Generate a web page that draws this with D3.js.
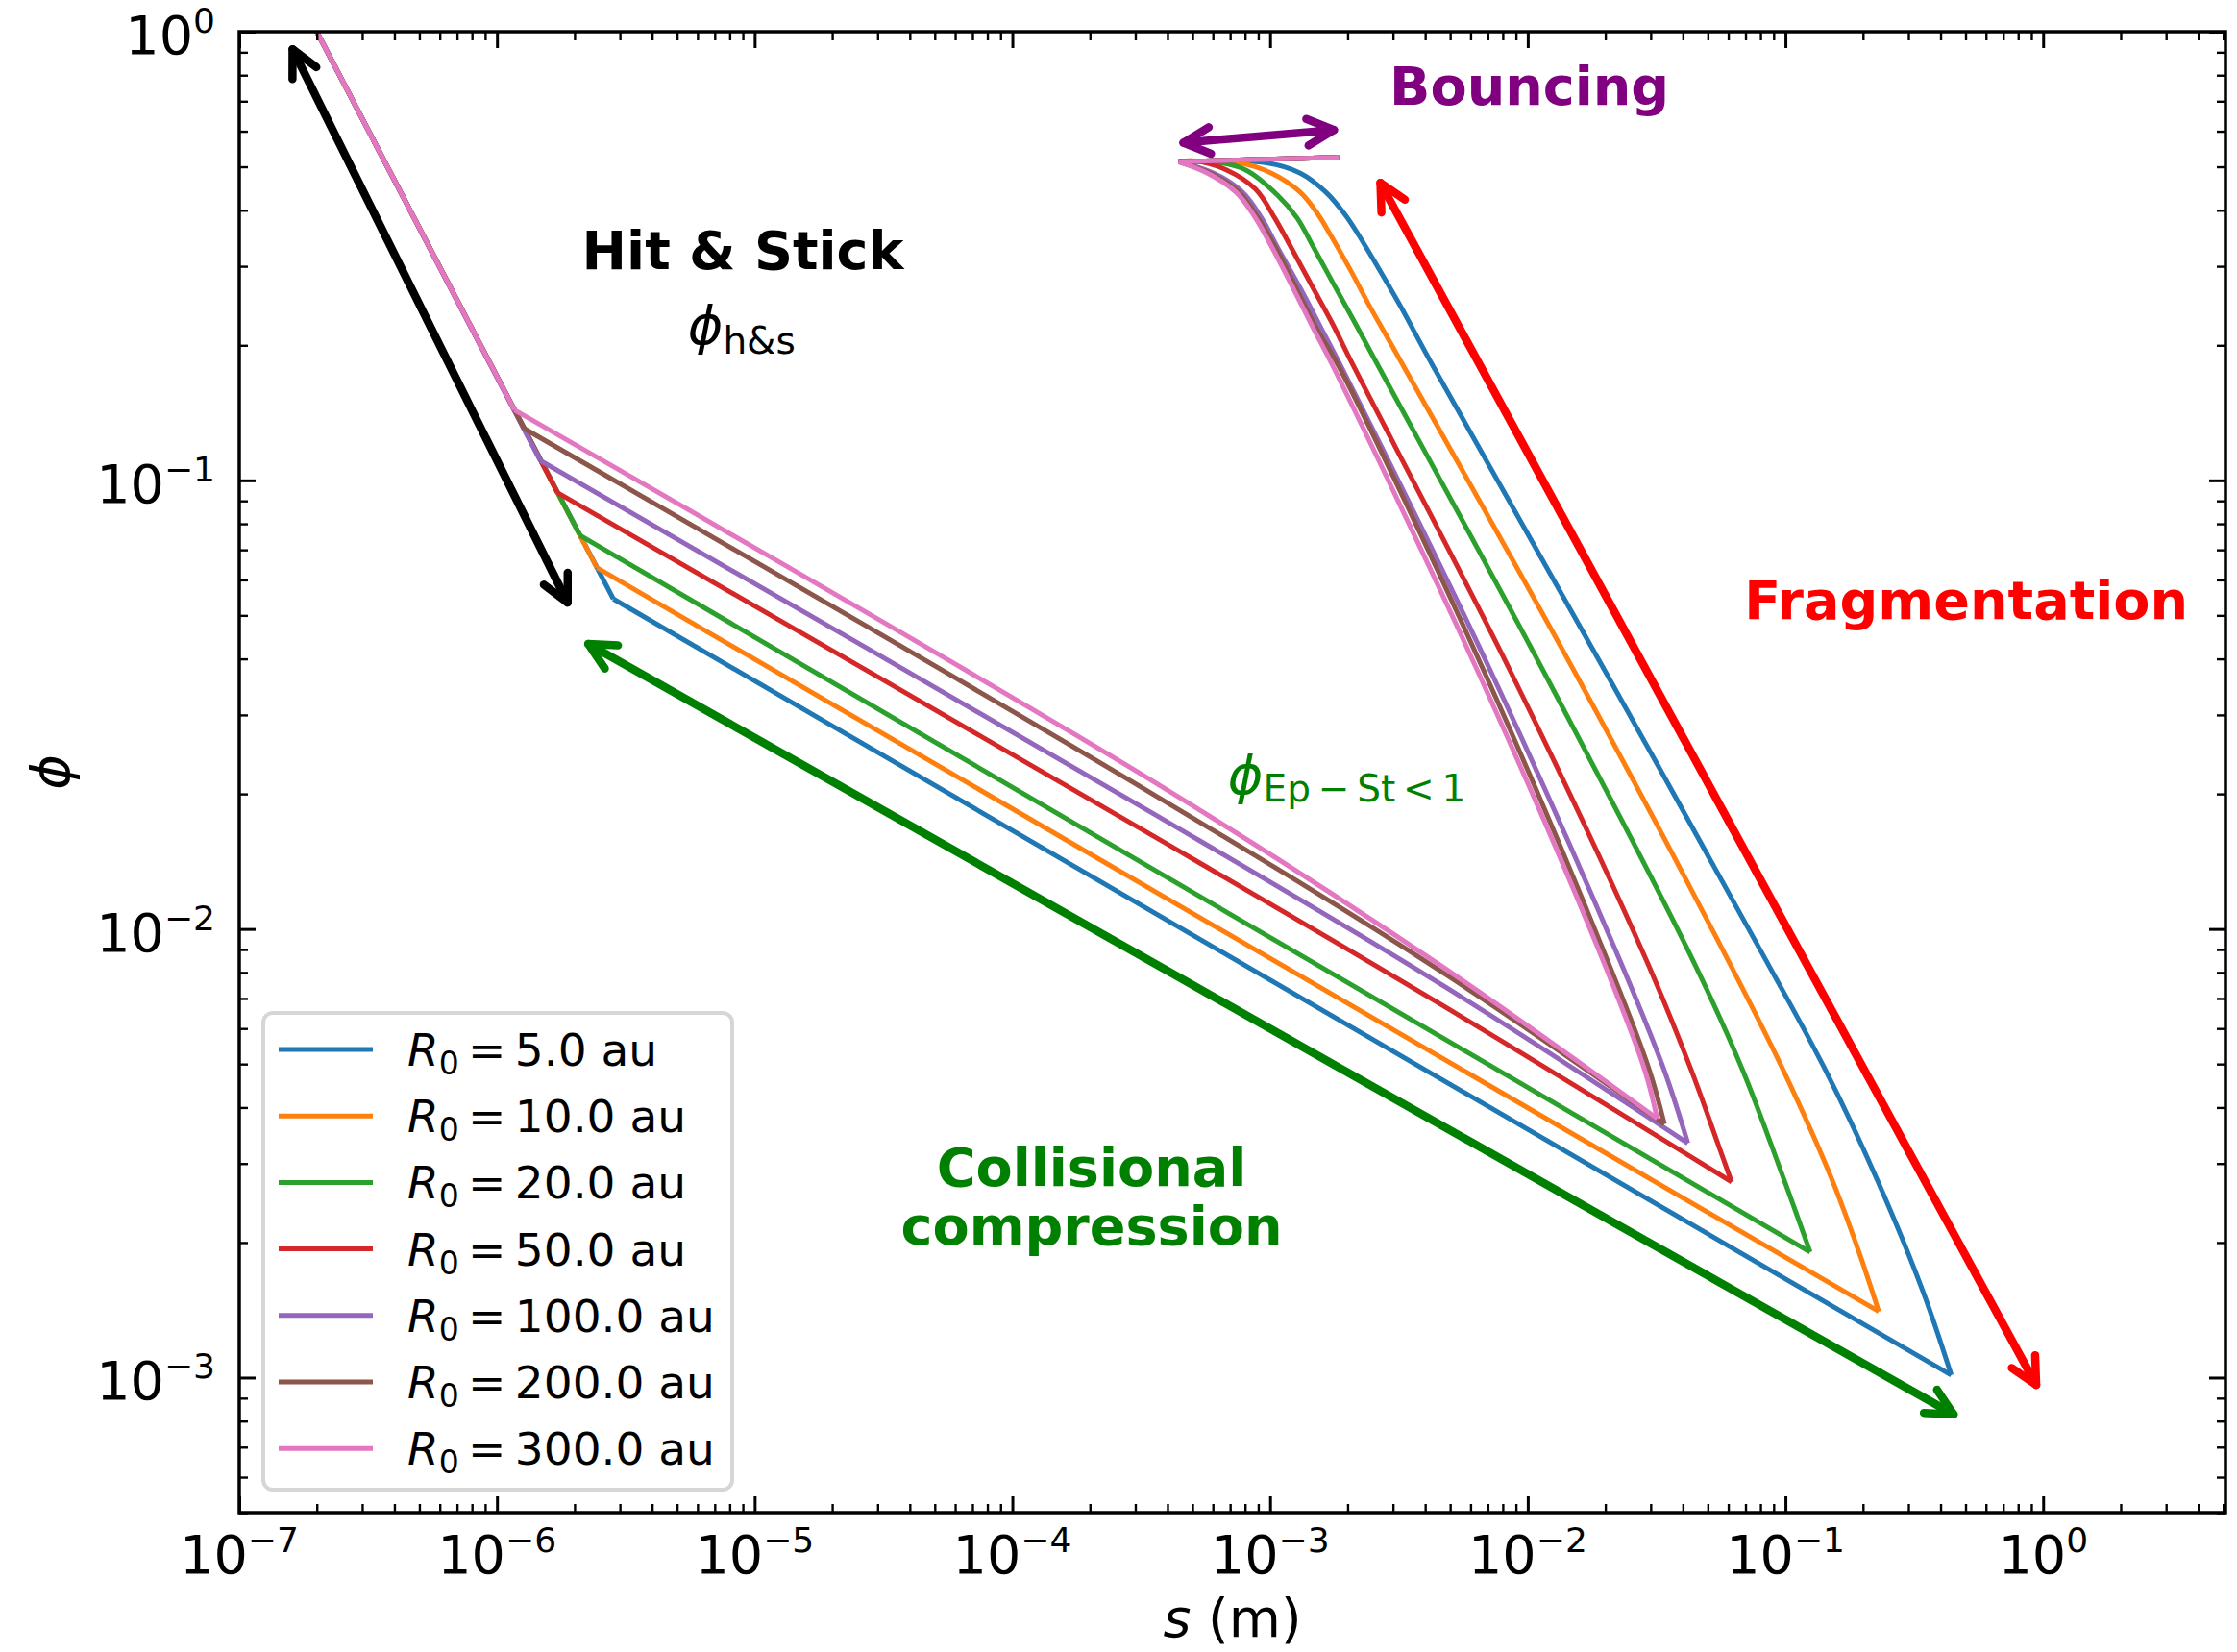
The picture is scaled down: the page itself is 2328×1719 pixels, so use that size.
<!DOCTYPE html>
<html>
<head>
<meta charset="utf-8">
<script src="https://cdn.jsdelivr.net/npm/d3@7"></script>
<style>
  body { margin: 0; background: #fff; }
  svg { display: block; font-family: "DejaVu Sans", sans-serif; }
</style>
</head>
<body>
<svg id="chart" width="2328" height="1719"></svg>
<script>
'use strict';

// initial disc radius of each run (au)
const radii = [5.0, 10.0, 20.0, 50.0, 100.0, 200.0, 300.0];
const colors = ['#1f77b4', '#ff7f0e', '#2ca02c', '#d62728', '#9467bd', '#8c564b', '#e377c2'];

// evolution tracks: [s (m), phi]
// hit & stick -> compression -> minimum phi -> fragmentation -> bouncing
const trackR5 = [[2.0e-7, 1.0], [2.83e-6, 0.0544], [0.440, 1.013e-3], [0.3415, 1.557e-3], [0.2281, 2.742e-3],
  [0.1434, 4.83e-3], [0.0842, 8.50e-3], [0.0201, 0.0373], [4.27e-3, 0.1806], [3.18e-3, 0.2466],
  [2.605e-3, 0.3004], [2.194e-3, 0.3541], [1.957e-3, 0.3908], [1.649e-3, 0.4385],
  [1.311e-3, 0.4838], [9.70e-4, 0.510], [4.42e-4, 0.513], [1.85e-3, 0.525]];
const trackR10 = [[2.0e-7, 1.0], [2.44e-6, 0.0639], [0.2302, 1.404e-3], [0.1945, 1.879e-3], [0.1524, 2.742e-3],
  [0.0983, 4.83e-3], [0.060, 8.50e-3], [0.01525, 0.0373], [3.28e-3, 0.1806], [2.836e-3, 0.2094],
  [2.415e-3, 0.2466], [2.043e-3, 0.2955], [1.736e-3, 0.3483], [1.539e-3, 0.3908], [1.311e-3, 0.4385],
  [1.013e-3, 0.4838], [7.61e-4, 0.510], [4.42e-4, 0.513], [1.85e-3, 0.525]];
const trackR20 = [[2.0e-7, 1.0], [2.10e-6, 0.0754], [0.1247, 1.905e-3], [0.0992, 2.742e-3], [0.0684, 4.83e-3],
  [0.0438, 8.50e-3], [0.01158, 0.0373], [2.62e-3, 0.1806], [2.144e-3, 0.2235], [1.746e-3, 0.2768],
  [1.471e-3, 0.3316], [1.274e-3, 0.3844], [1.073e-3, 0.4314], [8.06e-4, 0.4917], [6.05e-4, 0.513],
  [4.42e-4, 0.513], [1.85e-3, 0.525]];
const trackR50 = [[2.0e-7, 1.0], [1.716e-6, 0.0939], [3.51e-4, 0.01614], [4.62e-3, 6.78e-3], [0.0618, 2.731e-3],
  [0.0548, 3.311e-3], [0.0432, 4.83e-3], [0.0289, 8.50e-3], [8.61e-3, 0.0373], [2.10e-3, 0.1806],
  [1.746e-3, 0.2235], [1.471e-3, 0.2679], [1.203e-3, 0.3316], [1.043e-3, 0.3844], [8.78e-4, 0.4457],
  [6.79e-4, 0.4917], [5.10e-4, 0.515], [4.42e-4, 0.513], [1.85e-3, 0.525]];
const trackR100 = [[2.0e-7, 1.0], [1.472e-6, 0.1107], [3.51e-4, 0.0181], [4.62e-3, 7.52e-3], [0.0418, 3.33e-3],
  [0.0339, 4.83e-3], [0.0228, 8.50e-3], [7.22e-3, 0.0373], [1.875e-3, 0.1806], [1.616e-3, 0.2128],
  [1.311e-3, 0.2679], [1.082e-3, 0.3263], [9.27e-4, 0.3844], [7.83e-4, 0.4385], [6.05e-4, 0.4838],
  [4.42e-4, 0.513], [1.85e-3, 0.525]];
const trackR200 = [[2.0e-7, 1.0], [1.277e-6, 0.1304], [3.51e-4, 0.01998], [4.62e-3, 8.04e-3], [0.0339, 3.673e-3],
  [0.0297, 4.83e-3], [0.0204, 8.50e-3], [6.80e-3, 0.0373], [1.838e-3, 0.1806], [1.526e-3, 0.2164],
  [1.247e-3, 0.2722], [1.046e-3, 0.3316], [8.99e-4, 0.3844], [7.58e-4, 0.4385], [5.86e-4, 0.4838],
  [4.42e-4, 0.513], [1.85e-3, 0.525]];
const trackR300 = [[2.0e-7, 1.0], [1.169e-6, 0.1435], [3.51e-4, 0.02135], [4.62e-3, 8.27e-3], [0.0318, 3.777e-3],
  [0.0285, 4.83e-3], [0.0196, 8.50e-3], [6.43e-3, 0.0373], [1.746e-3, 0.1806], [1.483e-3, 0.2164],
  [1.213e-3, 0.2722], [1.015e-3, 0.3316], [8.78e-4, 0.3844], [7.39e-4, 0.4385], [5.72e-4, 0.4838],
  [4.42e-4, 0.513], [1.85e-3, 0.525]];
const tracks = [trackR5, trackR10, trackR20, trackR50, trackR100, trackR200, trackR300];

const xTickExps = [-7, -6, -5, -4, -3, -2, -1, 0];
const yTickExps = [-3, -2, -1, 0];

// regime arrows, both ends in data units
const arrowHitStick = [[1.61e-7, 0.914], [1.88e-6, 0.0534]];
const arrowCompression = [[2.26e-6, 0.0432], [0.4495, 8.28e-4]];
const arrowFragmentation = [[2.68e-3, 0.4606], [0.940, 9.63e-4]];
const arrowBouncing = [[4.61e-4, 0.5656], [1.77e-3, 0.604]];

const margin = {top: 33, right: 12, bottom: 145, left: 249};
const W = 2328, H = 1719;
const width = W - margin.left - margin.right;
const height = H - margin.top - margin.bottom;
const FS = 55.6;

const svg = d3.select('#chart');
const g = svg.append('g').attr('transform', `translate(${margin.left},${margin.top})`);

const x = d3.scaleLog().domain([1e-7, 5.1]).range([0, width]);
const y = d3.scaleLog().domain([5e-4, 1]).range([height, 0]);

svg.append('defs').append('clipPath').attr('id', 'plotclip')
  .append('rect').attr('width', width).attr('height', height);

// tracks, split at the hit&stick break, the minimum phi and the bounce point
const straight = d3.line().x(d => x(d[0])).y(d => y(d[1]));
const smooth = d3.line().x(d => x(d[0])).y(d => y(d[1])).curve(d3.curveCatmullRom.alpha(0.5));

function pieces(track) {
  const n = track.length;
  let tip = 1;
  track.forEach((p, i) => { if (p[1] < track[tip][1]) tip = i; });
  return [
    {pts: track.slice(0, 2), gen: straight},
    {pts: track.slice(1, tip + 1), gen: smooth},
    {pts: track.slice(tip, n - 1), gen: smooth},
    {pts: track.slice(n - 2), gen: straight}
  ];
}

const plot = g.append('g').attr('clip-path', 'url(#plotclip)');
tracks.forEach((track, i) => {
  plot.append('g').selectAll('path').data(pieces(track)).join('path')
    .attr('d', d => d.gen(d.pts))
    .attr('fill', 'none')
    .attr('stroke', colors[i])
    .attr('stroke-width', 5)
    .attr('stroke-linejoin', 'round');
});

// double-headed arrows
function drawArrow(pair, color) {
  const [a, b] = pair.map(p => [x(p[0]), y(p[1])]);
  const ag = g.append('g').attr('stroke', color).attr('stroke-width', 8.5)
    .attr('fill', 'none').attr('stroke-linecap', 'round').attr('stroke-linejoin', 'round');
  ag.append('path').attr('d', `M${a[0]},${a[1]}L${b[0]},${b[1]}`);
  const L = 31, w = 26.6 * Math.PI / 180;
  [[a, b], [b, a]].forEach(([tip, from]) => {
    const ang = Math.atan2(from[1] - tip[1], from[0] - tip[0]);
    const p1 = [tip[0] + L * Math.cos(ang + w), tip[1] + L * Math.sin(ang + w)];
    const p2 = [tip[0] + L * Math.cos(ang - w), tip[1] + L * Math.sin(ang - w)];
    ag.append('path').attr('d', `M${p1[0]},${p1[1]}L${tip[0]},${tip[1]}L${p2[0]},${p2[1]}`);
  });
}
drawArrow(arrowHitStick, '#000000');
drawArrow(arrowCompression, '#008000');
drawArrow(arrowFragmentation, '#ff0000');
drawArrow(arrowBouncing, '#800080');

// regime labels
function label(s, phi, color, bold, anchor) {
  return g.append('text')
    .attr('x', x(s)).attr('y', y(phi))
    .attr('fill', color)
    .attr('font-size', FS)
    .attr('font-weight', bold ? 'bold' : 'normal')
    .attr('text-anchor', anchor || 'middle');
}
label(9.0e-6, 0.2955, '#000', true).text('Hit & Stick');
const hs = label(8.9e-6, 0.2012, '#000', false);
hs.append('tspan').attr('font-style', 'italic').text('ϕ');
hs.append('tspan').attr('font-size', 39).attr('dy', 10).text('h&s');
label(0.01015, 0.689, '#800080', true).text('Bouncing');
label(0.5027, 0.0491, '#ff0000', true).text('Fragmentation');
label(2.03e-4, 2.67e-3, '#008000', true).text('Collisional');
label(2.03e-4, 1.977e-3, '#008000', true).text('compression');
const ep = label(6.86e-4, 0.02005, '#008000', false, 'start');
ep.append('tspan').attr('font-style', 'italic').text('ϕ');
ep.append('tspan').attr('font-size', 39).attr('dy', 8).text('Ep\u2009\u2212\u2009St\u2009<\u20091');

// ticks on all four sides, pointing in
const minorX = [], minorY = [];
d3.range(-7, 1).forEach(k => d3.range(2, 10).forEach(m => {
  const v = m * Math.pow(10, k);
  if (v < x.domain()[1]) minorX.push(v);
}));
d3.range(-4, 0).forEach(k => d3.range(2, 10).forEach(m => {
  const v = m * Math.pow(10, k);
  if (v >= y.domain()[0] && v < 1) minorY.push(v);
}));
const majorX = xTickExps.map(e => Math.pow(10, e));
const majorY = yTickExps.map(e => Math.pow(10, e));

function ticks(axis, vals, len, sw, transform) {
  const t = g.append('g').attr('transform', transform || null)
    .call(axis.tickValues(vals).tickSizeInner(-len).tickSizeOuter(0).tickFormat(''));
  t.select('.domain').remove();
  t.selectAll('line').attr('stroke', '#000').attr('stroke-width', sw);
}
[[majorX, 17, 3], [minorX, 9, 2.4]].forEach(([v, l, sw]) => {
  ticks(d3.axisBottom(x), v, l, sw, `translate(0,${height})`);
  ticks(d3.axisTop(x), v, l, sw);
});
[[majorY, 17, 3], [minorY, 9, 2.4]].forEach(([v, l, sw]) => {
  ticks(d3.axisLeft(y), v, l, sw);
  ticks(d3.axisRight(y), v, l, sw, `translate(${width},0)`);
});

function power(sel, e) {
  sel.append('tspan').text('10');
  sel.append('tspan').attr('font-size', 36).attr('dy', -22).text(e < 0 ? '\u2212' + (-e) : String(e));
}
g.append('g').selectAll('text').data(xTickExps).join('text')
  .attr('x', d => x(Math.pow(10, d)))
  .attr('y', height + 63)
  .attr('font-size', FS)
  .attr('text-anchor', 'middle')
  .each(function (d) { power(d3.select(this), d); });
g.append('g').selectAll('text').data(yTickExps).join('text')
  .attr('x', -25)
  .attr('y', d => y(Math.pow(10, d)) + 23)
  .attr('font-size', FS)
  .attr('text-anchor', 'end')
  .each(function (d) { power(d3.select(this), d); });

// axis labels
const xl = g.append('text').attr('x', width / 2).attr('y', height + 129)
  .attr('font-size', FS).attr('text-anchor', 'middle');
xl.append('tspan').attr('font-style', 'italic').text('s');
xl.append('tspan').text(' (m)');
g.append('text')
  .attr('transform', `translate(-177,${height / 2}) rotate(-90)`)
  .attr('font-size', FS).attr('font-style', 'italic').attr('text-anchor', 'middle')
  .text('ϕ');

// frame
g.append('rect').attr('width', width).attr('height', height)
  .attr('fill', 'none').attr('stroke', '#000').attr('stroke-width', 3.5);

// legend
const leg = g.append('g').attr('transform', `translate(${274 - margin.left},${1054 - margin.top})`);
leg.append('rect').attr('width', 488).attr('height', 496).attr('rx', 10)
  .attr('fill', '#fff').attr('stroke', '#d6d6d6').attr('stroke-width', 4);
const rows = leg.selectAll('g.row').data(radii).join('g')
  .attr('class', 'row')
  .attr('transform', (d, i) => `translate(0,${38 + i * 69.2})`);
rows.append('line').attr('x1', 16).attr('x2', 114)
  .attr('stroke', (d, i) => colors[i]).attr('stroke-width', 5);
rows.append('text').attr('x', 150).attr('y', 17).attr('font-size', 47)
  .each(function (d) {
    const t = d3.select(this);
    t.append('tspan').attr('font-style', 'italic').text('R');
    t.append('tspan').attr('font-size', 33).attr('dy', 9).text('0');
    t.append('tspan').attr('dy', -9).text('\u2009=\u2009' + d.toFixed(1) + ' au');
  });
</script>
</body>
</html>
